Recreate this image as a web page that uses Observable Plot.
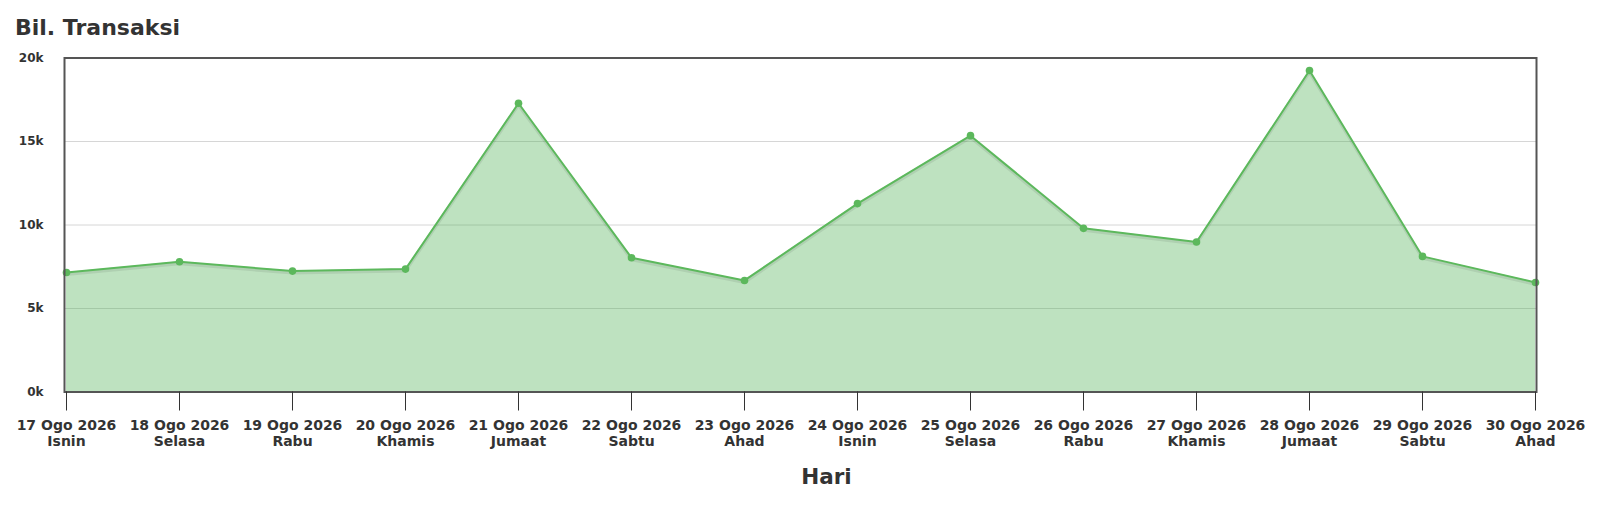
<!DOCTYPE html>
<html>
<head>
<meta charset="utf-8">
<script src="https://cdn.jsdelivr.net/npm/d3@7"></script>
<script src="https://cdn.jsdelivr.net/npm/@observablehq/plot@0.6"></script>
<style>
  html, body { margin: 0; padding: 0; background: #fff; }
  body { width: 1600px; height: 523px; overflow: hidden; font-family: "DejaVu Sans", sans-serif; }
  #title { margin: 0; padding: 15px 0 0 15px; height: 29px; font-size: 22px; line-height: 26px; font-weight: bold; color: #333; }
  #chart svg { display: block; }
</style>
</head>
<body>
<div id="title">Bil. Transaksi</div>
<div id="chart"></div>
<script>
const dateLabels = ["17 Ogo 2026","18 Ogo 2026","19 Ogo 2026","20 Ogo 2026","21 Ogo 2026","22 Ogo 2026","23 Ogo 2026","24 Ogo 2026","25 Ogo 2026","26 Ogo 2026","27 Ogo 2026","28 Ogo 2026","29 Ogo 2026","30 Ogo 2026"];
const dayLabels = ["Isnin","Selasa","Rabu","Khamis","Jumaat","Sabtu","Ahad","Isnin","Selasa","Rabu","Khamis","Jumaat","Sabtu","Ahad"];
const transactions = [7160, 7800, 7240, 7360, 17290, 8040, 6680, 11280, 15350, 9800, 8980, 19250, 8120, 6560];
const yTicks = [0, 5000, 10000, 15000, 20000];
const gridTicks = [5000, 10000, 15000];
const xAxisLabel = "Hari";

const data = dateLabels.map((d, i) => ({date: d, day: dayLabels[i], value: transactions[i]}));
const green = "#5cb85c";

const chart = Plot.plot({
  width: 1600,
  height: 479,
  marginLeft: 64,
  marginRight: 64,
  marginTop: 13.5,
  marginBottom: 131.5,
  style: {fontFamily: "DejaVu Sans, sans-serif", color: "#333", background: "#fff"},
  x: {type: "point", domain: dateLabels, padding: 0, label: null},
  y: {domain: [0, 20000], label: null},
  marks: [
    Plot.gridY(gridTicks, {stroke: "#d6d6d6", strokeOpacity: 1, strokeWidth: 1}),
    Plot.areaY(data, {x: "date", y: "value", fill: "#4caf50", fillOpacity: 0.36}),
    Plot.lineY(data, {x: "date", y: "value", stroke: "#000", strokeOpacity: 0.08, strokeWidth: 3, dy: 2}),
    Plot.lineY(data, {x: "date", y: "value", stroke: green, strokeWidth: 2}),
    Plot.dot(data, {x: "date", y: "value", r: 3.8, fill: green, stroke: "none"}),
    Plot.frame({stroke: "#555", strokeWidth: 2}),
    Plot.axisY({
      ticks: yTicks, tickSize: 0, tickPadding: 21,
      tickFormat: d => (d / 1000) + "k",
      fontSize: 12, fontWeight: "bold", fill: "#333", label: null
    }),
    Plot.axisX({
      tickSize: 19, tickPadding: 8, stroke: "#333",
      tickFormat: (d, i) => d + "\n" + dayLabels[dateLabels.indexOf(d)],
      fontSize: 14, fontWeight: "bold", fill: "#333", lineHeight: 1.12, label: null
    }),
    Plot.text([xAxisLabel], {frameAnchor: "bottom", dx: 26, dy: 85, lineAnchor: "middle", fontSize: 21.5, fontWeight: "bold", fill: "#333"})
  ]
});
document.getElementById("chart").appendChild(chart);
</script>
</body>
</html>
